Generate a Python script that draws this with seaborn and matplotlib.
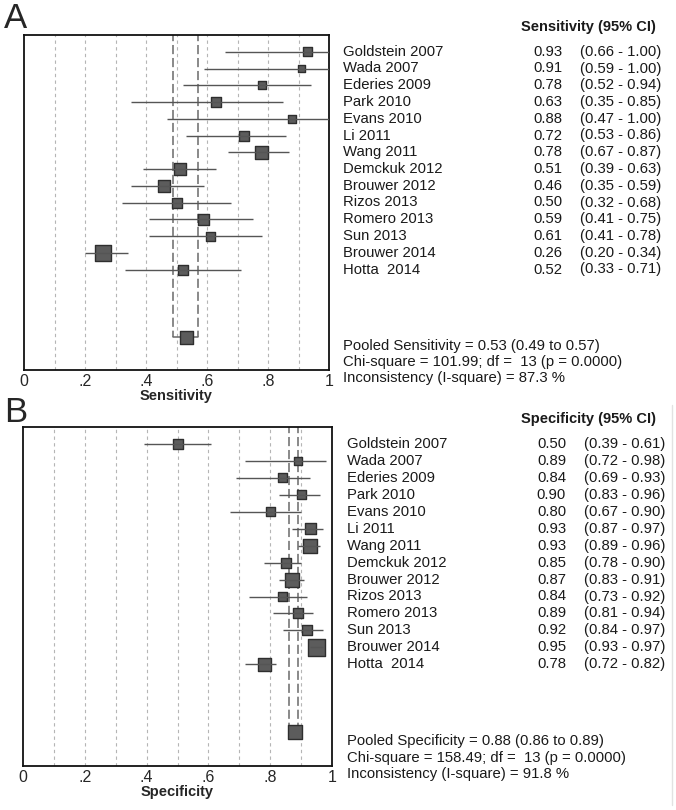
import matplotlib
matplotlib.use("Agg")
import matplotlib.pyplot as plt
import matplotlib.transforms as mtransforms
from matplotlib.lines import Line2D
import pandas as pd
import seaborn as sns

sns.set_style("white")
plt.rcParams["font.family"] = ["Liberation Sans", "DejaVu Sans"]

studies = ["Goldstein 2007", "Wada 2007", "Ederies 2009", "Park 2010", "Evans 2010",
           "Li 2011", "Wang 2011", "Demckuk 2012", "Brouwer 2012", "Rizos 2013",
           "Romero 2013", "Sun 2013", "Brouwer 2014", "Hotta  2014"]

sens = [0.93, 0.91, 0.78, 0.63, 0.88, 0.72, 0.78, 0.51, 0.46, 0.50, 0.59, 0.61, 0.26, 0.52]
sens_lo = [0.66, 0.59, 0.52, 0.35, 0.47, 0.53, 0.67, 0.39, 0.35, 0.32, 0.41, 0.41, 0.20, 0.33]
sens_hi = [1.00, 1.00, 0.94, 0.85, 1.00, 0.86, 0.87, 0.63, 0.59, 0.68, 0.75, 0.78, 0.34, 0.71]
sens_weight = [9, 7, 8, 10, 8, 10, 13, 12, 12, 10, 11, 9, 16, 10]

spec = [0.50, 0.89, 0.84, 0.90, 0.80, 0.93, 0.93, 0.85, 0.87, 0.84, 0.89, 0.92, 0.95, 0.78]
spec_lo = [0.39, 0.72, 0.69, 0.83, 0.67, 0.87, 0.89, 0.78, 0.83, 0.73, 0.81, 0.84, 0.93, 0.72]
spec_hi = [0.61, 0.98, 0.93, 0.96, 0.90, 0.97, 0.96, 0.90, 0.91, 0.92, 0.94, 0.97, 0.97, 0.82]
spec_weight = [10, 8, 9, 9, 9, 11, 14, 10, 14, 9, 10, 10, 17, 13]

pooled_sens = (0.53, 0.49, 0.57)
pooled_spec = (0.88, 0.86, 0.89)
pooled_weight = [13, 14]

stats_sens = ["Pooled Sensitivity = 0.53 (0.49 to 0.57)",
              "Chi-square = 101.99; df =  13 (p = 0.0000)",
              "Inconsistency (I-square) = 87.3 %"]
stats_spec = ["Pooled Specificity = 0.88 (0.86 to 0.89)",
              "Chi-square = 158.49; df =  13 (p = 0.0000)",
              "Inconsistency (I-square) = 91.8 %"]

xticks = [0, 0.2, 0.4, 0.6, 0.8, 1.0]
xticklabels = ["0", ".2", ".4", ".6", ".8", "1"]

W, H = 676, 810
fig = plt.figure(figsize=(W / 100, H / 100), dpi=100)

box_face = "#5c5c5c"
box_edge = "#2e2e2e"
ci_col = "#555555"
POOL_ROW = 17


def px(x, y):
    return x / W, 1 - y / H


def panel(rect, letter, letter_y, est, lo, hi, wt, pooled, pw, xlabel, header, stats, xoff):
    ax = fig.add_axes(rect)
    n = len(est)
    df = pd.DataFrame({"study": studies, "est": est, "lo": lo, "hi": hi,
                       "row": range(n), "w": wt})

    for g in [0.1, 0.2, 0.3, 0.4, 0.5, 0.6, 0.7, 0.8, 0.9]:
        ax.axvline(g, color="#b5b5b5", lw=0.8, ls=(0, (3, 3)), zorder=0)

    p, plo, phi = pooled
    for v in (plo, phi):
        ax.plot([v, v], [-1.2, POOL_ROW], color="#6a6a6a", lw=1.1,
                ls=(0, (6, 2.5)), zorder=1)
    ax.plot([plo, phi], [POOL_ROW, POOL_ROW], color="#6a6a6a", lw=1.1, zorder=1)

    sns.scatterplot(data=df, x="est", y="row", marker="s",
                    s=[(v * 0.72) ** 2 for v in df["w"]],
                    color=box_face, edgecolor=box_edge, linewidth=1.0,
                    ax=ax, zorder=3, legend=False)
    ax.hlines(df["row"], df["lo"], df["hi"], color=ci_col, lw=1.0, zorder=4)
    ax.scatter([p], [POOL_ROW], marker="s", s=(pw * 0.72) ** 2,
               color=box_face, edgecolor=box_edge, linewidth=1.0, zorder=5)

    ax.set_xlim(0, 1)
    ax.set_ylim(19, -1)
    ax.set_yticks([])
    ax.set_xticks(xticks)
    ax.set_xticklabels(xticklabels, fontsize=11.5)
    ax.tick_params(axis="x", length=0, pad=3)
    ax.set_xlabel(xlabel, fontsize=10.5, fontweight="bold", labelpad=0)
    ax.set_ylabel("")
    for s in ax.spines.values():
        s.set_visible(True)
        s.set_color("#111111")
        s.set_linewidth(1.3)

    tr = mtransforms.blended_transform_factory(fig.transFigure, ax.transData)
    for i in range(n):
        ax.text((343 + xoff) / W, i, studies[i], transform=tr, fontsize=10.7,
                va="center", ha="left", clip_on=False, color="#1a1a1a")
        ax.text((562 + xoff) / W, i, f"{est[i]:.2f}", transform=tr, fontsize=10.7,
                va="center", ha="right", clip_on=False, color="#1a1a1a")
        ax.text((580 + xoff) / W, i, f"({lo[i]:.2f} - {hi[i]:.2f})", transform=tr,
                fontsize=10.7, va="center", ha="left", clip_on=False, color="#1a1a1a")
    ax.text(656 / W, -1.5, header, transform=tr, fontsize=10.5, fontweight="bold",
            va="center", ha="right", clip_on=False, color="#1a1a1a")
    for k, line in enumerate(stats):
        ax.text((343 + xoff) / W, 17.55 + 0.95 * k, line, transform=tr, fontsize=10.7,
                va="center", ha="left", clip_on=False, color="#1a1a1a")

    fig.text(*px(4, letter_y), letter, fontsize=25, va="center", ha="left")
    return ax


axA = panel([24 / W, 1 - 370 / H, 305 / W, 335 / H], "A", 19,
            sens, sens_lo, sens_hi, sens_weight, pooled_sens, pooled_weight[0],
            "Sensitivity", "Sensitivity (95% CI)", stats_sens, 0)
axB = panel([23 / W, 1 - 766 / H, 309 / W, 339 / H], "B", 413,
            spec, spec_lo, spec_hi, spec_weight, pooled_spec, pooled_weight[1],
            "Specificity", "Specificity (95% CI)", stats_spec, 4)

fig.add_artist(Line2D([672 / W, 672 / W], [1 - 405 / H, 1 - 805 / H],
                      transform=fig.transFigure, color="#e2e2e2", lw=1))

fig.savefig("out.png", dpi=100)
